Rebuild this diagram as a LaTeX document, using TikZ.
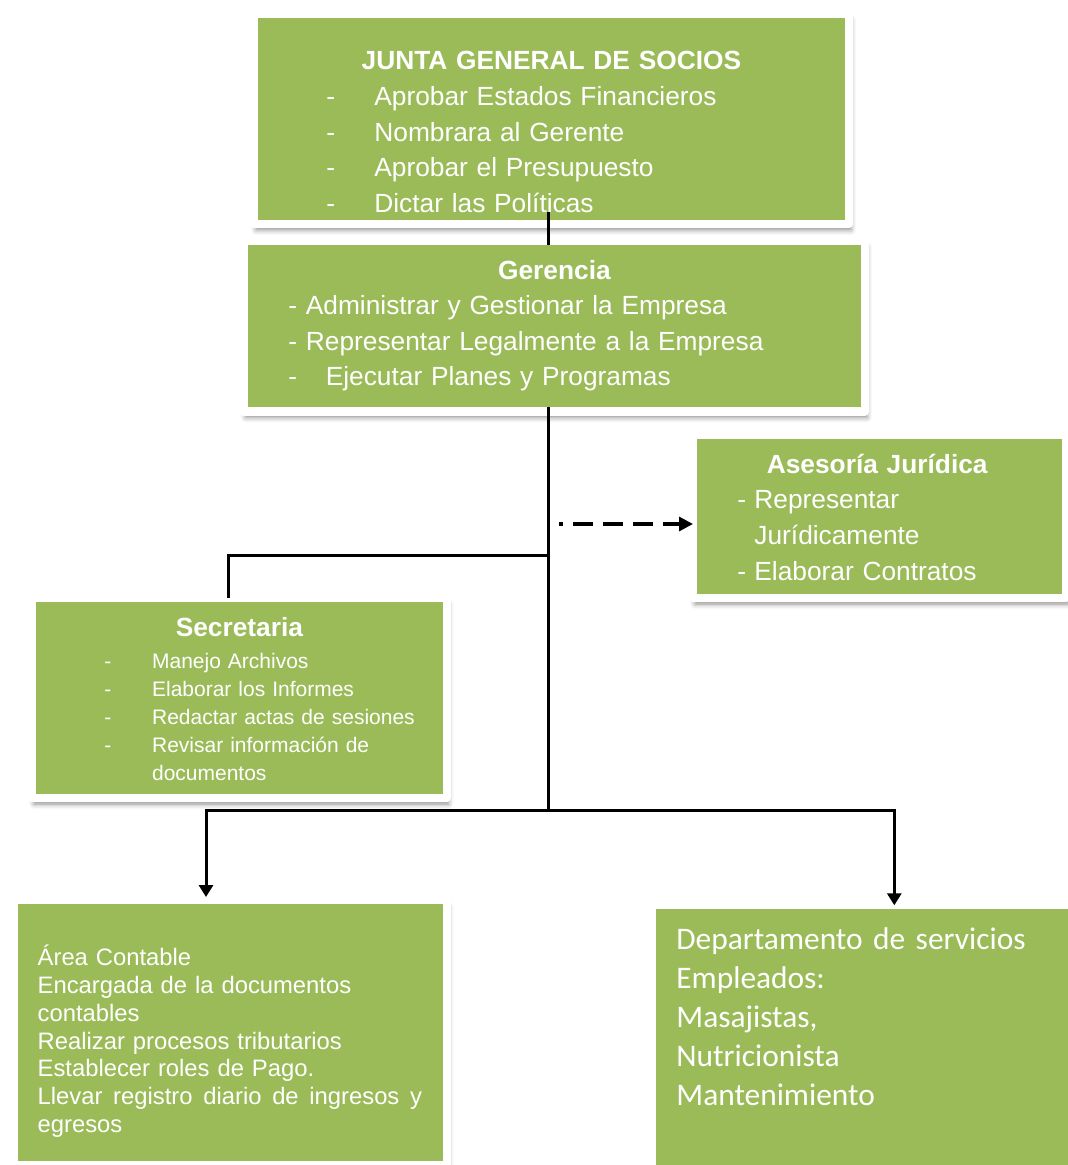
\documentclass[tikz,border=0pt]{standalone}
\usepackage{fontspec}
\setmainfont{Liberation Sans}
\newfontfamily\calibri{Carlito}
\usepackage{tikz}
\usetikzlibrary{arrows.meta,shadows.blur}
\definecolor{verdeOliva}{HTML}{9BBB59}
\newcommand{\guion}[1]{\makebox[#1][l]{-}}
\newcommand{\titulocaja}[2]{\makebox[#1]{\bfseries #2}}

\begin{document}
\begin{tikzpicture}[x=0.5pt,y=-0.5pt,
  caja/.style={rectangle,anchor=north west,inner sep=0pt,outer sep=0pt,fill=verdeOliva,
    draw=white,line width=4pt,line join=round,
    blur shadow={shadow xshift=1pt,shadow yshift=-3pt,shadow blur radius=2.5pt,shadow opacity=45}},
  texto/.style={anchor=base west,inner sep=0pt,text=white},
  linea/.style={line width=1.5pt},
  flecha/.style={line width=1.5pt,-{Triangle[length=6pt,width=7pt]}},
  discont/.style={line width=1.6pt,dash pattern=on 10pt off 5pt,dash phase=8pt,-{Triangle[length=7pt,width=7pt]}}]
\useasboundingbox (0,0) rectangle (1068,1165);

\node[caja,minimum width=297.5pt,minimum height=105pt] (junta) at (254,14) {};
\node[caja,minimum width=310.75pt,minimum height=85.25pt] (gerencia) at (243.5,241) {};
\node[caja,minimum width=186.5pt,minimum height=81.5pt] (asesoria) at (693,435) {};
\node[caja,minimum width=207.25pt,minimum height=100pt] (secretaria) at (32,598) {};
\node[caja,minimum width=216.1pt,minimum height=132.2pt] (contable) at (14.3,900.3) {};
\node[caja,minimum width=214pt,minimum height=137.35pt] (servicios) at (652,905.3) {};

\begin{scope}
\clip (258,18) rectangle (845,212.5);
\node[texto,text width=240pt,font=\fontsize{13.15}{17.9}\selectfont] (juntaTxt) at (326,69.5)
  {\titulocaja{225pt}{JUNTA GENERAL DE SOCIOS}\\
   \guion{24pt}Aprobar Estados Financieros\\
   \guion{24pt}Nombrara al Gerente\\
   \guion{24pt}Aprobar el Presupuesto\\
   \guion{24pt}Dictar las Políticas};
\end{scope}

\node[texto,text width=270pt,font=\fontsize{13.15}{17.75}\selectfont] (gerenciaTxt) at (288,279.5)
  {\titulocaja{266pt}{Gerencia}\\
   \guion{8.75pt}Administrar y Gestionar la Empresa\\
   \guion{8.75pt}Representar Legalmente a la Empresa\\
   \guion{18.7pt}Ejecutar Planes y Programas};

\node[texto,text width=150pt,font=\fontsize{13.15}{17.8}\selectfont] (asesoriaTxt) at (737,473.3)
  {\titulocaja{139.8pt}{Asesoría Jurídica}\\
   \guion{8.5pt}Representar\\
   \hspace*{8.5pt}Jurídicamente\\
   \guion{8.5pt}Elaborar Contratos};

\node[texto,text width=170pt,font=\fontsize{10.5}{14.05}\selectfont] (secretariaTxt) at (104,636.7)
  {\titulocaja{135pt}{\fontsize{13.15}{14}\selectfont Secretaria}\\[1.75pt]
   \guion{23.85pt}Manejo Archivos\\
   \guion{23.85pt}Elaborar los Informes\\
   \guion{23.85pt}Redactar actas de sesiones\\
   \guion{23.85pt}Revisar información de\\
   \hspace*{23.85pt}documentos};

\node[texto,text width=200pt,font=\fontsize{11.9}{13.9}\selectfont] (contableTxt) at (37.3,965.7)
  {Área Contable\\
   Encargada de la documentos\\
   contables\\
   Realizar procesos tributarios\\
   Establecer roles de Pago.\\
   \makebox[192.2pt][s]{Llevar\hfill registro\hfill diario\hfill de\hfill ingresos\hfill y}\\
   egresos};

\node[texto,text width=200pt,font=\calibri\fontsize{15.7}{19.5}\selectfont] (serviciosTxt) at (676,949.3)
  {Departamento de servicios\\
   Empleados:\\
   Masajistas,\\
   Nutricionista\\
   Mantenimiento};

\coordinate (tronco) at (548,0);
\coordinate (ramal) at (548,555);
\coordinate (cruce) at (548,810.7);
\coordinate (guiaIni) at (559,524);

\draw[linea] ([yshift=6pt]junta.south -| tronco) -- ([yshift=-2pt]gerencia.north -| tronco);
\draw[linea] ([yshift=2pt]gerencia.south -| tronco) -- (cruce);
\draw[linea] (ramal) -| ([xshift=-5.5pt]secretaria.north);
\draw[discont] (guiaIni) -- (guiaIni -| asesoria.west);
\draw[flecha] (cruce) -| ([xshift=-12.2pt,yshift=1.65pt]contable.north);
\draw[flecha] (cruce) -| ([xshift=14.15pt]servicios.north);
\end{tikzpicture}
\end{document}
